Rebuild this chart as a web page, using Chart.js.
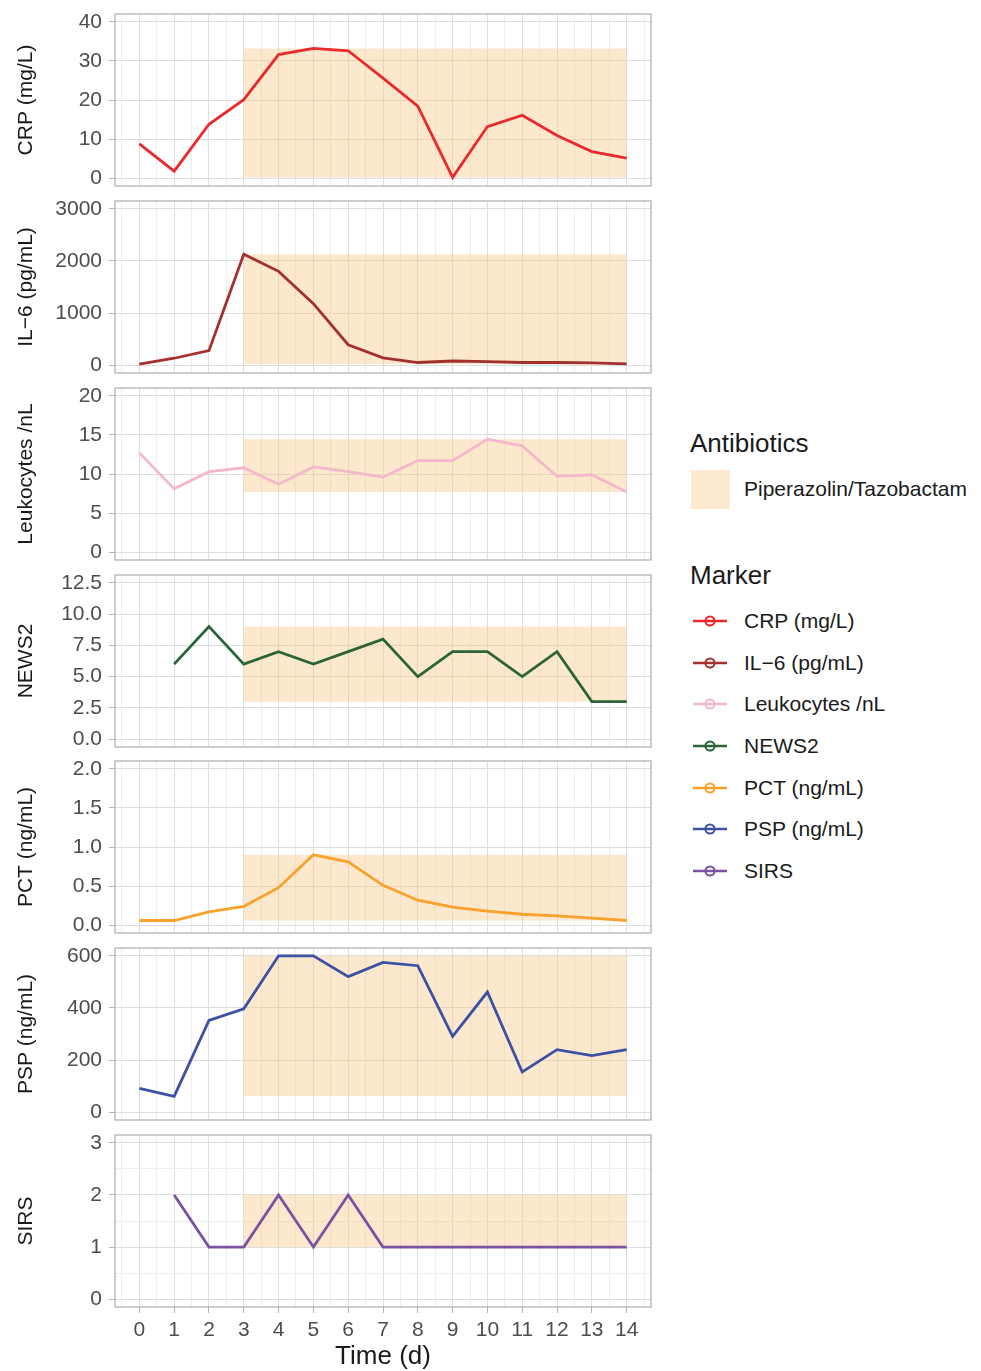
<!DOCTYPE html>
<html>
<head>
<meta charset="utf-8">
<title>Marker course</title>
<script src="https://cdn.jsdelivr.net/npm/chart.js@4.4.1/dist/chart.umd.min.js"></script>
<style>
  body { margin: 0; background: #fff; font-family: "Liberation Sans", Arial, sans-serif; }
  #page { position: relative; width: 981px; height: 1371px; overflow: hidden; }
  .panel { position: absolute; left: 0; }
  .panel canvas { display: block; }
  .leg { position: absolute; left: 690px; color: #1a1a1a; white-space: nowrap; display: flex; align-items: center; }
  .legTitle { font-size: 26px; }
  .legItem { font-size: 21px; }
  .legItem span { margin-left: 14px; }
  .abxBox { width: 39px; height: 39px; background: rgb(253, 234, 208); margin-left: 1px; }
</style>
</head>
<body>
<div id="page"></div>
<script>
// ---- data ----
const days = [0, 1, 2, 3, 4, 5, 6, 7, 8, 9, 10, 11, 12, 13, 14];

const crp    = [8.8, 1.8, 13.8, 20.1, 31.6, 33.2, 32.6, 25.6, 18.4, 0.2, 13.2, 16.1, 10.9, 6.8, 5.1];
const il6    = [20, 133, 279, 2130, 1800, 1180, 393, 140, 51, 80, 70, 51, 51, 44, 25];
const leuko  = [12.7, 8.1, 10.3, 10.8, 8.7, 10.9, 10.3, 9.6, 11.7, 11.7, 14.45, 13.6, 9.7, 9.9, 7.7];
const news2  = [null, 6, 9, 6, 7, 6, 7, 8, 5, 7, 7, 5, 7, 3, 3];
const pct    = [0.06, 0.06, 0.17, 0.24, 0.48, 0.9, 0.81, 0.51, 0.32, 0.23, 0.18, 0.14, 0.12, 0.09, 0.06];
const psp    = [91, 61, 352, 397, 600, 600, 520, 575, 562, 291, 461, 154, 240, 217, 240];
const sirs   = [null, 2, 1, 1, 2, 1, 2, 1, 1, 1, 1, 1, 1, 1, 1];

const crpTicks   = [0, 10, 20, 30, 40];
const il6Ticks   = [0, 1000, 2000, 3000];
const leukoTicks = [0, 5, 10, 15, 20];
const news2Ticks = [0, 2.5, 5, 7.5, 10, 12.5];
const pctTicks   = [0, 0.5, 1, 1.5, 2];
const pspTicks   = [0, 200, 400, 600];
const sirsTicks  = [0, 1, 2, 3];

// antibiotic period (days)
const abxStart = 3;
const abxEnd = 14;
const abxName = 'Piperazolin/Tazobactam';

const panels = [
  { title: 'CRP (mg/L)',      values: crp,   ticks: crpTicks,   color: '#E8292E', digits: 0 },
  { title: 'IL\u22126 (pg/mL)', values: il6,  ticks: il6Ticks,   color: '#A3302F', digits: 0 },
  { title: 'Leukocytes /nL',  values: leuko, ticks: leukoTicks, color: '#F4B8CA', digits: 0 },
  { title: 'NEWS2',           values: news2, ticks: news2Ticks, color: '#2A6438', digits: 1 },
  { title: 'PCT (ng/mL)',     values: pct,   ticks: pctTicks,   color: '#F8A12C', digits: 1 },
  { title: 'PSP (ng/mL)',     values: psp,   ticks: pspTicks,   color: '#3C51A3', digits: 0 },
  { title: 'SIRS',            values: sirs,  ticks: sirsTicks,  color: '#7C50A2', digits: 0 }
];

// ---- layout ----
const PANEL_TOP = 14;
const PANEL_STEP = 186.85;
const PANEL_H = 172;
const AXIS_W = 115;
const CANVAS_W = 660;
const SHADE = 'rgba(248, 200, 130, 0.4)';
const GRID_MAJOR = '#DEDEDE';
const GRID_MINOR = '#EEEEEE';
const BORDER = '#B3B3B3';

Chart.defaults.font.family = '"Liberation Sans", Arial, sans-serif';
Chart.defaults.color = '#4D4D4D';

const panelBorder = {
  id: 'panelBorder',
  afterDraw(chart) {
    const a = chart.chartArea;
    const ctx = chart.ctx;
    ctx.save();
    ctx.strokeStyle = BORDER;
    ctx.lineWidth = 1.3;
    ctx.strokeRect(a.left, a.top, a.right - a.left, a.bottom - a.top);
    ctx.restore();
  }
};

// grid positions: majors plus the half-way minors (ggplot style)
function withMinors(major, lo, hi) {
  const step = major[1] - major[0];
  const out = [major[0] - step / 2];
  major.forEach(v => { out.push(v, v + step / 2); });
  return out.filter(v => v >= lo && v <= hi);
}

const xLo = days[0] - 0.05 * (days[days.length - 1] - days[0]);
const xHi = days[days.length - 1] + 0.05 * (days[days.length - 1] - days[0]);
const xGrid = withMinors(days, xLo, xHi);

const page = document.getElementById('page');

panels.forEach((p, idx) => {
  const last = idx === panels.length - 1;
  const top = Math.round(PANEL_TOP + idx * PANEL_STEP);
  const canvasTop = top - 2;
  const canvasH = last ? 1371 - canvasTop : PANEL_H + 4;
  const xAxisH = last ? canvasH - 2 - PANEL_H : 0;

  const holder = document.createElement('div');
  holder.className = 'panel';
  holder.style.top = canvasTop + 'px';
  const canvas = document.createElement('canvas');
  canvas.width = CANVAS_W;
  canvas.height = canvasH;
  holder.appendChild(canvas);
  page.appendChild(holder);

  const t = p.ticks;
  const span = t[t.length - 1] - t[0];
  const yLo = t[0] - 0.05 * span;
  const yHi = t[t.length - 1] + 0.05 * span;
  const yGrid = withMinors(t, yLo, yHi);

  const present = p.values.filter(v => v !== null);
  const shadeMin = Math.min(...present);
  const shadeMax = Math.max(...present);

  new Chart(canvas, {
    type: 'line',
    data: {
      datasets: [
        {
          label: p.title,
          data: days.map((d, i) => ({ x: d, y: p.values[i] })),
          borderColor: p.color,
          borderWidth: 2.8,
          pointRadius: 0,
          tension: 0,
          spanGaps: false,
          fill: false
        },
        {
          label: abxName + ' low',
          data: [{ x: abxStart, y: shadeMin }, { x: abxEnd, y: shadeMin }],
          borderWidth: 0,
          pointRadius: 0,
          fill: false
        },
        {
          label: abxName,
          data: [{ x: abxStart, y: shadeMax }, { x: abxEnd, y: shadeMax }],
          borderWidth: 0,
          pointRadius: 0,
          backgroundColor: SHADE,
          fill: '-1'
        }
      ]
    },
    options: {
      responsive: false,
      animation: false,
      devicePixelRatio: 1,
      layout: { padding: { left: 0, right: CANVAS_W - 651, top: 2, bottom: last ? 0 : 2 } },
      plugins: { legend: { display: false }, tooltip: { enabled: false } },
      scales: {
        x: {
          type: 'linear',
          min: xLo,
          max: xHi,
          afterBuildTicks: s => { s.ticks = xGrid.map(v => ({ value: v })); },
          afterFit: s => { s.height = xAxisH; s.paddingLeft = 0; s.paddingRight = 0; },
          border: { display: false },
          grid: {
            color: c => Number.isInteger(c.tick.value) ? GRID_MAJOR : GRID_MINOR,
            lineWidth: 1,
            drawTicks: last,
            tickLength: 6,
            tickColor: c => Number.isInteger(c.tick.value) ? BORDER : 'rgba(0,0,0,0)'
          },
          ticks: {
            display: last,
            autoSkip: false,
            maxRotation: 0,
            padding: 5,
            font: { size: 21 },
            color: '#4D4D4D',
            callback: v => Number.isInteger(v) ? String(v) : ''
          },
          title: {
            display: last,
            text: 'Time (d)',
            color: '#1a1a1a',
            font: { size: 26, lineHeight: 1.1 },
            padding: { top: 0, bottom: 0 }
          }
        },
        y: {
          type: 'linear',
          min: yLo,
          max: yHi,
          afterBuildTicks: s => { s.ticks = yGrid.map(v => ({ value: v })); },
          afterFit: s => { s.width = AXIS_W; s.paddingTop = 0; s.paddingBottom = 0; },
          border: { display: false },
          grid: {
            color: c => t.includes(c.tick.value) ? GRID_MAJOR : GRID_MINOR,
            lineWidth: 1,
            tickLength: 6,
            tickColor: c => t.includes(c.tick.value) ? BORDER : 'rgba(0,0,0,0)'
          },
          ticks: {
            padding: 7,
            font: { size: 21 },
            color: '#4D4D4D',
            callback: v => t.includes(v) ? v.toFixed(p.digits) : ''
          },
          title: {
            display: true,
            text: p.title,
            color: '#1a1a1a',
            font: { size: 21 },
            padding: { top: 14, bottom: 0 }
          }
        }
      }
    },
    plugins: [panelBorder]
  });
});

// ---- legend (HTML) ----
function addLegend(html, cls, centerY, h) {
  const d = document.createElement('div');
  d.className = 'leg ' + cls;
  d.style.top = (centerY - h / 2) + 'px';
  d.style.height = h + 'px';
  d.innerHTML = html;
  page.appendChild(d);
}

addLegend('Antibiotics', 'legTitle', 443, 34);
addLegend('<div class="abxBox"></div><span>' + abxName + '</span>', 'legItem', 489, 40);
addLegend('Marker', 'legTitle', 575, 34);

const legendStep = 41.67;
panels.forEach((p, i) => {
  const svg = '<svg width="40" height="30" viewBox="0 0 40 30">' +
    '<line x1="3" y1="15" x2="37" y2="15" stroke="' + p.color + '" stroke-width="2.6"/>' +
    '<circle cx="20" cy="15" r="4.6" fill="none" stroke="' + p.color + '" stroke-width="2"/></svg>';
  addLegend(svg + '<span>' + p.title + '</span>', 'legItem', 621 + i * legendStep, 30);
});
</script>
</body>
</html>
